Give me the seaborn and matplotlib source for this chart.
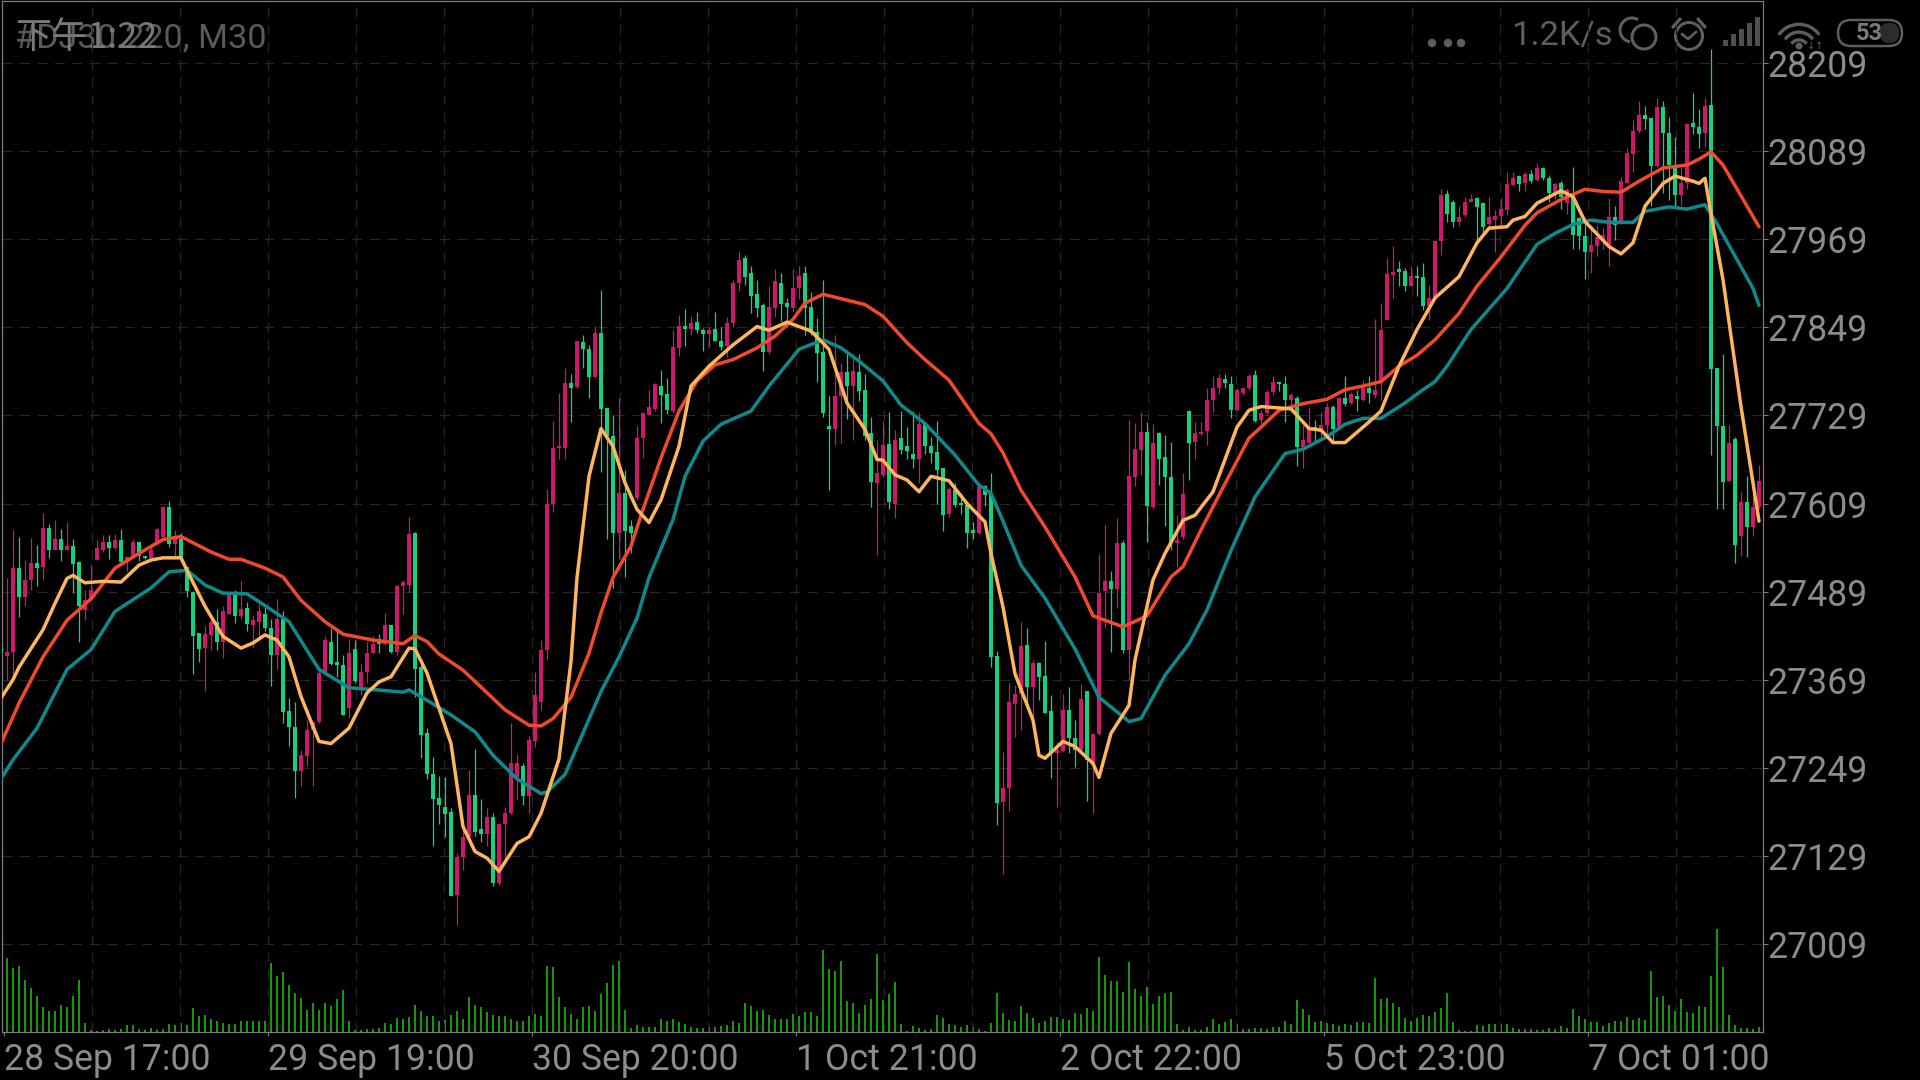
import numpy as np
import pandas as pd
import seaborn as sns
import matplotlib
matplotlib.use("Agg")
import matplotlib.pyplot as plt
from matplotlib.patches import Arc, Circle, FancyBboxPatch, Polygon

high = [27414,27507,27573,27564,27532,27562,27553,27596,27581,27586,
27574,27584,27560,27530,27491,27527,27559,27566,27566,27567,
27574,27537,27560,27557,27538,27553,27575,27604,27613,27573,
27569,27523,27490,27433,27442,27451,27465,27469,27489,27491,
27503,27475,27457,27475,27470,27452,27479,27462,27344,27339,
27273,27314,27312,27383,27428,27439,27435,27403,27425,27423,
27391,27421,27428,27431,27460,27444,27498,27505,27591,27570,
27391,27303,27264,27238,27237,27194,27133,27169,27246,27274,
27207,27194,27188,27173,27196,27310,27268,27255,27292,27380,
27423,27629,27722,27759,27794,27785,27831,27839,27825,27851,
27900,27739,27729,27753,27655,27587,27714,27733,27764,27773,
27791,27780,27846,27866,27874,27864,27870,27848,27850,27870,
27850,27863,27914,27953,27948,27932,27914,27882,27905,27928,
27923,27889,27928,27932,27932,27897,27862,27914,27755,27839,
27800,27818,27812,27812,27785,27727,27695,27722,27733,27709,
27735,27713,27735,27734,27719,27699,27722,27658,27631,27637,
27623,27611,27584,27632,27634,27650,27408,27271,27364,27362,
27447,27439,27396,27393,27422,27348,27284,27350,27359,27314,
27363,27354,27296,27540,27580,27517,27589,27559,27723,27718,
27733,27720,27717,27707,27702,27693,27593,27650,27736,27720,
27720,27766,27782,27786,27786,27782,27766,27768,27786,27791,
27736,27763,27782,27775,27782,27759,27755,27716,27741,27723,
27734,27746,27743,27754,27782,27761,27763,27777,27782,27860,
27882,27943,27960,27939,27930,27932,27932,27936,27907,27968,
28037,28036,28022,28014,28026,28031,28026,28019,28026,28009,
28025,28061,28061,28057,28061,28063,28073,28068,28057,28046,
28048,28039,28068,27999,27998,27989,27989,27986,28025,28014,
28054,28093,28132,28157,28150,28135,28161,28157,28135,28108,
28066,28127,28168,28146,28161,28228,27794,27813,27716,27700,
27624,27646,27619,27661]

open_ = [27413,27401,27407,27521,27482,27505,27528,27522,27575,27546,
27560,27546,27551,27529,27464,27479,27532,27545,27557,27549,
27559,27529,27537,27556,27538,27535,27554,27564,27604,27554,
27560,27522,27489,27432,27412,27430,27448,27421,27459,27484,
27456,27466,27444,27448,27459,27439,27403,27452,27326,27305,
27245,27265,27300,27311,27378,27421,27393,27389,27330,27411,
27359,27380,27406,27425,27418,27444,27407,27496,27498,27569,
27386,27296,27241,27208,27196,27189,27076,27128,27155,27212,
27165,27159,27182,27092,27172,27187,27237,27251,27210,27285,
27339,27410,27609,27684,27684,27773,27768,27829,27820,27781,
27841,27739,27701,27569,27623,27579,27617,27698,27730,27738,
27769,27758,27735,27821,27851,27847,27856,27846,27840,27847,
27831,27823,27855,27909,27944,27923,27895,27879,27815,27875,
27910,27882,27875,27902,27923,27877,27842,27815,27714,27711,
27755,27788,27769,27788,27763,27705,27637,27648,27690,27608,
27698,27688,27676,27670,27717,27687,27679,27657,27595,27627,
27609,27607,27573,27569,27633,27623,27401,27203,27221,27336,
27350,27416,27359,27392,27374,27326,27269,27272,27328,27290,
27273,27353,27255,27295,27490,27504,27492,27555,27410,27645,
27682,27707,27604,27705,27672,27645,27555,27563,27735,27693,
27703,27708,27750,27767,27779,27772,27737,27759,27766,27784,
27723,27732,27761,27775,27772,27750,27753,27686,27692,27713,
27707,27716,27741,27713,27753,27746,27755,27750,27766,27757,
27773,27859,27920,27926,27926,27905,27918,27917,27878,27889,
27966,28031,28019,27993,28002,28020,28025,28018,27990,27995,
28001,28009,28043,28055,28046,28058,28050,28066,28052,28032,
28046,28018,28032,27998,27973,27952,27960,27966,27961,27999,
27991,28046,28085,28116,28138,28134,28069,28149,28114,28070,
28029,28045,28127,28122,28113,28152,27793,27714,27639,27697,
27565,27611,27577,27604]

close = [27406,27407,27521,27482,27505,27528,27521,27575,27546,27560,
27546,27551,27527,27470,27478,27491,27548,27556,27549,27559,
27529,27536,27556,27537,27535,27546,27574,27604,27554,27560,
27534,27490,27428,27411,27431,27448,27421,27462,27484,27456,
27465,27445,27450,27462,27439,27403,27452,27325,27305,27245,
27266,27300,27311,27378,27423,27391,27389,27321,27406,27367,
27380,27406,27418,27418,27443,27407,27497,27502,27568,27384,
27293,27241,27207,27199,27186,27075,27128,27155,27212,27162,
27159,27182,27092,27172,27187,27255,27255,27210,27287,27348,
27410,27609,27685,27686,27773,27766,27830,27819,27781,27841,
27738,27701,27569,27623,27571,27569,27698,27732,27741,27772,
27757,27736,27822,27851,27847,27855,27846,27840,27846,27831,
27822,27855,27909,27941,27917,27892,27875,27815,27877,27912,
27881,27877,27903,27919,27875,27841,27814,27732,27711,27756,
27788,27769,27789,27762,27701,27638,27650,27689,27611,27695,
27682,27681,27669,27717,27687,27678,27655,27594,27629,27607,
27607,27569,27569,27631,27620,27400,27201,27221,27338,27350,
27415,27359,27392,27373,27324,27269,27273,27328,27289,27273,
27343,27259,27295,27487,27504,27492,27555,27410,27646,27683,
27707,27605,27691,27670,27645,27555,27559,27622,27691,27705,
27707,27750,27767,27780,27773,27737,27764,27766,27782,27722,
27732,27761,27775,27772,27750,27757,27686,27695,27712,27709,
27716,27741,27711,27753,27745,27758,27752,27767,27759,27764,
27846,27922,27925,27925,27905,27919,27916,27878,27889,27967,
28029,28004,27992,27999,28019,28024,28013,27986,27999,28001,
28010,28044,28053,28044,28058,28048,28066,28052,28032,28044,
28027,28036,27975,27973,27952,27961,27972,27975,27999,27989,
28048,28086,28116,28138,28133,28069,28149,28113,28070,28029,
28045,28126,28122,28112,28150,27792,27715,27638,27691,27553,
27611,27577,27604,27639]

low = [27405,27369,27369,27455,27469,27491,27496,27505,27535,27546,
27530,27546,27487,27421,27450,27478,27532,27543,27533,27546,
27527,27517,27535,27530,27533,27535,27553,27563,27550,27535,
27531,27482,27377,27393,27353,27410,27409,27398,27459,27446,
27452,27435,27412,27423,27435,27360,27383,27310,27279,27208,
27224,27251,27224,27310,27376,27389,27373,27321,27317,27365,
27348,27364,27405,27405,27416,27405,27403,27459,27489,27346,
27262,27234,27143,27172,27155,27074,27035,27110,27150,27156,
27148,27142,27088,27089,27123,27186,27205,27199,27187,27278,
27328,27396,27597,27669,27669,27720,27766,27794,27753,27781,
27652,27561,27494,27533,27509,27542,27614,27671,27729,27735,
27719,27731,27732,27810,27823,27839,27841,27817,27822,27830,
27818,27809,27850,27898,27907,27869,27863,27790,27812,27863,
27857,27850,27871,27887,27839,27838,27774,27727,27628,27689,
27692,27724,27695,27748,27695,27604,27539,27645,27601,27589,
27676,27669,27658,27637,27677,27664,27609,27572,27590,27604,
27595,27549,27561,27568,27605,27386,27171,27105,27190,27291,
27300,27334,27318,27341,27323,27235,27196,27271,27269,27250,
27271,27204,27188,27294,27439,27407,27466,27406,27369,27633,
27648,27556,27602,27634,27578,27546,27523,27561,27641,27670,
27702,27689,27733,27758,27767,27725,27735,27757,27764,27720,
27718,27729,27757,27762,27720,27735,27660,27657,27691,27691,
27700,27700,27693,27712,27742,27745,27735,27748,27746,27753,
27750,27859,27889,27905,27898,27905,27892,27872,27859,27886,
27948,27992,27985,27987,27999,28019,27965,27977,27982,27952,
27985,28002,28043,28035,28034,28045,28048,28050,28020,28024,
28010,28004,27955,27955,27915,27923,27946,27955,27932,27968,
27990,28045,28061,28113,28119,28014,28068,28032,28023,28013,
28016,28038,28112,28093,28095,27675,27602,27602,27639,27528,
27537,27536,27565,27601]

volume = [9,74,64,66,52,44,36,25,21,21,
27,25,36,52,9,2,1,2,3,2,
3,7,7,3,2,4,2,3,8,7,
9,7,24,16,17,13,11,9,8,8,
11,11,11,11,11,69,56,60,47,39,
34,22,29,22,29,26,33,42,11,2,
2,3,3,4,9,8,14,13,15,27,
21,16,16,11,12,17,21,13,35,27,
25,20,17,16,16,13,11,11,16,18,
16,66,65,35,25,18,13,25,26,21,
38,49,67,71,22,4,7,5,5,5,
13,11,13,10,8,5,4,4,5,5,
6,7,11,9,29,26,21,22,17,13,
13,13,18,16,20,20,16,82,63,61,
71,31,29,19,27,33,78,32,38,50,
8,1,6,4,2,3,17,14,8,7,
5,7,5,3,1,9,39,19,12,11,
26,19,14,9,11,15,15,13,12,19,
18,24,21,75,57,51,51,40,70,43,
36,45,28,36,39,40,8,2,5,2,
2,5,13,8,10,13,8,3,3,4,
4,3,5,5,11,8,32,23,17,10,
11,9,8,6,8,7,10,10,9,54,
33,34,29,25,14,11,14,17,16,20,
24,39,10,2,1,1,7,6,8,8,
8,8,4,3,3,3,2,2,4,3,
6,4,23,16,13,10,10,6,9,11,
11,15,12,14,12,61,35,36,27,21,
33,20,19,26,25,56,103,65,17,7,
4,4,3,5]

red_idx = [0,3,7,11,15,19,23,27,30,35,38,40,44,47,50,54,57,62,67,69,71,73,77,80,84,88,90,92,95,98,100,102,105,107,110,113,116,119,122,126,129,132,134,137,141,144,147,151,154,158,163,165,167,170,174,179,182,187,191,195,197,200,204,208,210,213,217,221,224,227,230,233,236,239,243,246,250,254,256,260,264,267,270,273,277,281,283,285,287,293]
red_ma = [27282,27337,27400,27450,27479,27521,27541,27560,27564,27543,27533,27533,27521,27509,27477,27448,27431,27423,27418,27429,27421,27404,27382,27359,27328,27307,27306,27316,27345,27405,27460,27508,27551,27601,27671,27735,27776,27798,27805,27821,27837,27860,27882,27894,27886,27880,27864,27828,27805,27777,27718,27704,27678,27627,27577,27509,27456,27441,27456,27509,27523,27573,27636,27698,27713,27736,27745,27751,27764,27769,27775,27796,27811,27832,27868,27905,27945,27988,28005,28023,28037,28034,28033,28048,28066,28070,28078,28088,28070,27986]

teal_idx = [0,2,6,11,15,19,25,28,31,34,37,41,44,48,53,58,63,67,68,70,75,79,82,86,90,91,94,100,103,106,108,112,114,117,120,125,128,133,137,140,143,147,150,154,159,163,165,167,170,174,179,183,188,190,194,198,201,205,209,214,217,221,224,227,230,234,237,239,241,245,251,256,259,262,265,268,272,274,278,281,284,286,292,293]
teal_ma = [27234,27260,27303,27383,27410,27462,27494,27516,27518,27498,27487,27486,27470,27448,27383,27358,27355,27352,27355,27346,27321,27298,27266,27234,27214,27216,27240,27353,27400,27453,27508,27587,27646,27694,27717,27735,27769,27819,27832,27821,27803,27776,27743,27718,27675,27634,27623,27585,27525,27480,27411,27345,27312,27316,27375,27418,27464,27545,27618,27677,27683,27700,27717,27725,27725,27746,27764,27775,27796,27846,27902,27962,27977,27989,27995,27992,27992,28007,28013,28010,28016,27990,27902,27879]

orange_idx = [0,2,3,7,9,11,12,14,17,20,23,25,27,30,31,34,37,40,42,44,46,48,50,53,55,58,61,63,65,68,69,71,75,77,79,81,83,86,88,90,93,95,96,98,100,102,104,106,108,110,113,115,118,122,126,128,131,135,138,141,144,146,147,149,151,153,155,158,161,164,165,167,169,172,173,174,177,179,182,183,185,188,189,192,194,197,199,202,206,208,210,215,218,220,222,224,228,230,233,236,239,243,246,248,251,252,254,256,260,262,264,268,270,272,274,277,279,282,283,284,285,287,290,293]
orange_ma = [27344,27369,27386,27437,27473,27507,27511,27501,27503,27502,27525,27532,27535,27535,27518,27469,27428,27412,27419,27430,27423,27400,27346,27285,27282,27303,27351,27366,27373,27412,27411,27378,27282,27169,27135,27126,27108,27146,27155,27187,27261,27394,27508,27646,27711,27687,27637,27601,27583,27614,27687,27769,27796,27825,27850,27845,27856,27844,27819,27746,27710,27669,27668,27648,27641,27625,27646,27640,27609,27584,27541,27468,27377,27314,27266,27262,27285,27278,27255,27236,27296,27334,27396,27505,27541,27586,27593,27625,27713,27736,27741,27738,27711,27709,27692,27692,27720,27735,27796,27846,27889,27918,27964,27984,27986,27995,28000,28018,28035,28027,27993,27959,27949,27964,28014,28045,28055,28048,28045,28052,28004,27914,27741,27585]

price_ticks = [28209,28089,27969,27849,27729,27609,27489,27369,27249,27129,27009]
date_labels = ["28 Sep 17:00","29 Sep 19:00","30 Sep 20:00","1 Oct 21:00","2 Oct 22:00","5 Oct 23:00","7 Oct 01:00"]

GREEN = "#12d283"
PINK = "#d0176e"
GRID = "#262626"
LABEL = "#8c8c8c"
SPINE = "#7d7d7d"
STATUS = "#5e5e5e"

sns.set_theme(style="dark", rc={"axes.facecolor": "black", "figure.facecolor": "black"})
plt.rcParams["font.family"] = ["Roboto", "Noto Sans CJK SC", "DejaVu Sans"]

df = pd.DataFrame({"high": high, "open": open_, "close": close, "low": low, "volume": volume})
df["idx"] = np.arange(len(df))
df["up"] = df["close"] > df["open"]

fig = plt.figure(figsize=(19.2, 10.8), dpi=100, facecolor="black")
ax = fig.add_axes([2 / 1920, 1 - 1032 / 1080, 1761 / 1920, 1031 / 1080])
ax.set_facecolor("black")

# volume sits in its own axis under the candles
ax_vol = ax.twinx()
sns.barplot(x=df["idx"], y=df["volume"], native_scale=True, color="#1a960e",
            saturation=1, width=0.36, linewidth=0, edgecolor="none", ax=ax_vol)
ax_vol.set_ylim(0, 1031)
ax_vol.set_ylabel("")
ax_vol.set_xlabel("")
ax_vol.set_yticks([])
ax_vol.grid(False)
for s in ax_vol.spines.values():
    s.set_visible(False)

# candles
colors = np.where(df["up"], PINK, GREEN)
ax.vlines(df["idx"], df["low"], df["high"], colors=colors, linewidth=0.9, zorder=3)
ax.bar(df["idx"], (df["close"] - df["open"]).abs().clip(lower=3), bottom=df[["open", "close"]].min(axis=1),
       width=0.68, color=colors, linewidth=0, zorder=3)

# moving averages
line_kw = dict(linewidth=2.5, solid_joinstyle="round", ax=ax)
sns.lineplot(x=teal_idx, y=teal_ma, color="#0f8a8c", zorder=4, **line_kw)
sns.lineplot(x=red_idx, y=red_ma, color="#f2492a", zorder=5, **line_kw)
sns.lineplot(x=orange_idx, y=orange_ma, color="#ffb55e", zorder=6, **line_kw)

px_price = 1200 / 881
ax.set_ylim(28209 - (1032 - 63) * px_price, 28209 + 62 * px_price)
ax.set_xlim(1 / 6, 1 / 6 + 1761 / 6)
ax_vol.set_xlim(ax.get_xlim())

x_major = [0.5 + 44 * k for k in range(len(date_labels))]
x_grid = [0.5 + 44 * k / 3 for k in range(1, 20)]
ax.yaxis.tick_right()
ax.set_yticks(price_ticks)
ax.set_xticks(x_major)
ax.set_xticklabels(date_labels, ha="left", fontsize=25.7, color=LABEL, fontfamily="Roboto")
ax.set_yticklabels([str(p) for p in price_ticks], fontsize=25.7, color=LABEL, fontfamily="Roboto")
ax.tick_params(axis="x", length=3, width=0.8, color=SPINE, pad=4, bottom=True)
ax.tick_params(axis="y", length=3.6, width=0.8, color=SPINE, pad=-0.8, right=True, left=False)
ax.grid(False)
ax.set_axisbelow(True)
for v in x_grid:
    ax.axvline(v, color=GRID, linewidth=0.9, dashes=(8, 6), zorder=0)
for p in price_ticks:
    ax.axhline(p, color=GRID, linewidth=0.9, dashes=(8, 6), zorder=0)
for s in ax.spines.values():
    s.set_visible(True)
    s.set_color(SPINE)
    s.set_linewidth(0.9)
ax.set_zorder(ax_vol.get_zorder() + 1)
ax.patch.set_visible(False)
ax_vol.patch.set_visible(True)
ax_vol.set_facecolor("black")

# phone status bar drawn over the chart, in pixel coordinates
top = fig.add_axes([0, 0, 1, 1])
top.set_xlim(0, 1920)
top.set_ylim(1080, 0)
top.axis("off")
top.patch.set_visible(False)
top.text(15, 39, "#DJ30.220, M30", color="#5a5a5a", fontsize=24.7, va="center", ha="left")
top.text(15, 38, "下午1:22", color="#7a7a7a", fontsize=26, va="center", ha="left",
         family=["Noto Sans CJK SC", "DejaVu Sans"])
for cx in (1432, 1448, 1461):
    top.add_patch(Circle((cx, 43), 4.2, color=STATUS, lw=0))
top.text(1511, 36, "1.2K/s", color=STATUS, fontsize=24.8, va="center", ha="left")
# sync icon
top.add_patch(Circle((1644, 37), 12, fill=False, ec=STATUS, lw=2.2))
top.add_patch(Arc((1632, 30), 24, 24, theta1=100, theta2=300, ec=STATUS, lw=2.2))
# alarm icon
top.add_patch(Circle((1689, 36), 13.5, fill=False, ec=STATUS, lw=2.2))
top.plot([1682, 1688, 1696], [34, 39, 32], color=STATUS, lw=2.0)
top.plot([1673, 1680], [27, 19], color=STATUS, lw=2.4)
top.plot([1698, 1705], [19, 27], color=STATUS, lw=2.4)
# signal bars
for i in range(5):
    x0 = 1723 + 8 * i
    h = 6 + 5.7 * i
    top.add_patch(Polygon([(x0, 46), (x0 + 5, 46), (x0 + 5, 46 - h), (x0, 46 - h)], color="#505050", lw=0))
# wifi
for r in (38, 26, 14):
    top.add_patch(Arc((1799, 49), r * 1.3, r * 1.3, theta1=215, theta2=325, ec=STATUS, lw=2.4))
top.add_patch(Circle((1799, 46), 3.5, color=STATUS, lw=0))
top.text(1815, 46, "↓↑", color=STATUS, fontsize=7, va="center", ha="center", family="DejaVu Sans")
# battery
top.add_patch(FancyBboxPatch((1838, 20), 64, 26, boxstyle="round,pad=0,rounding_size=13",
                             fc="black", ec=STATUS, lw=1.8))
top.add_patch(FancyBboxPatch((1880, 23), 19, 20, boxstyle="round,pad=0,rounding_size=9",
                             fc="#2c2c2c", ec="none"))
top.text(1869, 33, "53", color="#7a7a7a", fontsize=17, va="center", ha="center", fontweight="bold")

fig.savefig("out.png", dpi=100, facecolor="black")
